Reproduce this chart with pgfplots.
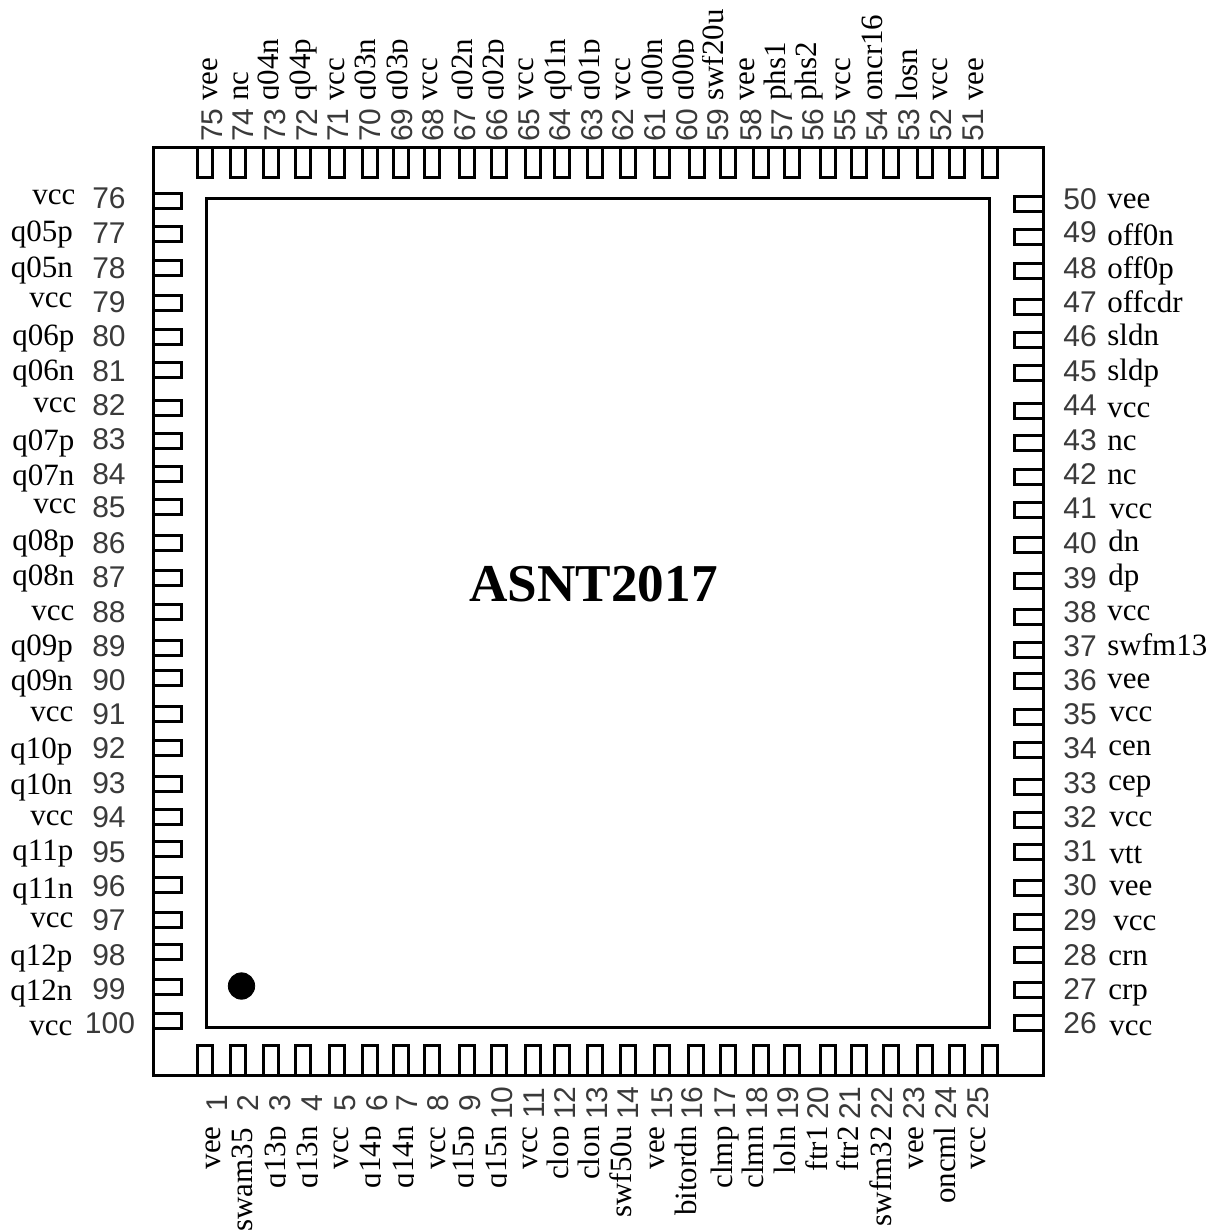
\documentclass[border=0pt]{standalone}
\usepackage{fontspec}
\usepackage{pgfplots}
\pgfplotsset{compat=1.18}
\setmainfont{Liberation Serif}
\newfontfamily\arialf{Liberation Sans}
\definecolor{numc}{HTML}{3A3A3A}
\newcommand{\nm}{\fontsize{15.5}{16}\selectfont}
\newcommand{\nb}{\arialf\fontsize{15}{16}\selectfont\color{numc}}
\newcommand{\HN}[3]{\node[anchor=base west,inner sep=0pt,font=\nm] at (axis cs:#1,#2) {#3};}
\newcommand{\TN}[2]{\node[rotate=90,anchor=base west,inner sep=0pt,font=\nm] at (axis cs:#1,101) {#2};}
\newcommand{\BN}[3][1126]{\node[rotate=90,anchor=base east,inner sep=0pt,font=\nm] at (axis cs:#2,#1) {#3};}
\newcommand{\HD}[3]{\node[anchor=center,inner sep=0pt,font=\nb] at (axis cs:#1,#2) {#3};}
\newcommand{\VD}[3]{\node[rotate=90,anchor=center,inner sep=0pt,font=\nb] at (axis cs:#1,#2) {#3};}
% hides the descender of a rotated label, as in the reference
\newcommand{\CUT}[3]{\fill[white] (axis cs:#1+1,#2) rectangle (axis cs:#1+9,#3);}
\pgfdeclareplotmark{pinB}{\pgfpathmoveto{\pgfqpoint{-3.75pt}{0pt}}\pgfpathlineto{\pgfqpoint{-3.75pt}{14.75pt}}\pgfpathlineto{\pgfqpoint{3.75pt}{14.75pt}}\pgfpathlineto{\pgfqpoint{3.75pt}{0pt}}\pgfusepathqstroke}
\pgfdeclareplotmark{pinT}{\pgfpathmoveto{\pgfqpoint{-3.75pt}{0pt}}\pgfpathlineto{\pgfqpoint{-3.75pt}{-15pt}}\pgfpathlineto{\pgfqpoint{3.75pt}{-15pt}}\pgfpathlineto{\pgfqpoint{3.75pt}{0pt}}\pgfusepathqstroke}
\pgfdeclareplotmark{pinL}{\pgfpathmoveto{\pgfqpoint{0pt}{3.75pt}}\pgfpathlineto{\pgfqpoint{14pt}{3.75pt}}\pgfpathlineto{\pgfqpoint{14pt}{-3.75pt}}\pgfpathlineto{\pgfqpoint{0pt}{-3.75pt}}\pgfusepathqstroke}
\pgfdeclareplotmark{pinR}{\pgfpathmoveto{\pgfqpoint{0pt}{3.75pt}}\pgfpathlineto{\pgfqpoint{-14.5pt}{3.75pt}}\pgfpathlineto{\pgfqpoint{-14.5pt}{-3.75pt}}\pgfpathlineto{\pgfqpoint{0pt}{-3.75pt}}\pgfusepathqstroke}
\begin{document}
\begin{tikzpicture}
\begin{axis}[
  scale only axis, width=606pt, height=616pt,
  xmin=0, xmax=1212, ymin=0, ymax=1232, y dir=reverse,
  hide axis, clip=false,
]
\path (axis cs:0,0) rectangle (axis cs:1212,1232);
% package outline and die outline
\addplot[black,line width=1.5pt,line cap=rect,mark=none] coordinates {(153,147)(1043,147)(1043,1075)(153,1075)(153,147)};
\addplot[black,line width=1.5pt,line cap=rect,mark=none] coordinates {(206,198)(989,198)(989,1027)(206,1027)(206,198)};
% pins
\addplot[only marks,black,mark=pinB,mark options={line width=1.5pt}] coordinates {
 (205,1075)(238,1075)(271,1075)(302.5,1075)(337,1075)(370,1075)(401,1075)(432,1075)(467,1075)(499,1075)(533,1075)(562,1075)(595,1075)(628,1075)(662,1075)(696,1075)(728,1075)(761,1075)(792,1075)(827.5,1075)(859,1075)(890.5,1075)(925,1075)(957,1075)(990,1075)};
\addplot[only marks,black,mark=pinT,mark options={line width=1.5pt}] coordinates {
 (205,147)(238,147)(271,147)(302.5,147)(337,147)(370,147)(401,147)(432,147)(467,147)(499,147)(533,147)(562,147)(595,147)(628,147)(662,147)(697,147)(728,147)(761,147)(792,147)(827.5,147)(859,147)(890.5,147)(925,147)(957,147)(990,147)};
\addplot[only marks,black,mark=pinL,mark options={line width=1.5pt}] coordinates {
 (153,200.5)(153,234)(153,268)(153,303)(153,337)(153,370)(153,407.5)(153,441)(153,474)(153,507)(153,543)(153,578)(153,612)(153,648)(153,678)(153,714)(153,748)(153,784)(153,817)(153,849)(153,885)(153,920)(153,952)(153,987)(153,1021)};
\addplot[only marks,black,mark=pinR,mark options={line width=1.5pt}] coordinates {
 (1043,204)(1043,237)(1043,271)(1043,307)(1043,340)(1043,373)(1043,411)(1043,443)(1043,477)(1043,510)(1043,545)(1043,580.5)(1043,617)(1043,650)(1043,681)(1043,717)(1043,750)(1043,787)(1043,820)(1043,852)(1043,888)(1043,922)(1043,955)(1043,990)(1043,1023)};
% orientation dot
\addplot[only marks,black,mark=*,mark size=6.6pt] coordinates {(241.5,986)};
% centre text
\node[anchor=base,inner sep=0pt,font=\fontsize{26.6}{28}\selectfont\bfseries] at (axis cs:593.5,601) {ASNT2017};
% left names
\HN{32}{204}{vcc}\HN{10.5}{241}{q05p}\HN{10.5}{277}{q05n}\HN{29}{307}{vcc}
\HN{12}{345}{q06p}\HN{12}{380}{q06n}\HN{33}{412}{vcc}\HN{12}{450}{q07p}\HN{12}{485}{q07n}\HN{33}{513}{vcc}
\HN{12}{550}{q08p}\HN{12}{585}{q08n}\HN{31}{620}{vcc}\HN{10.5}{655}{q09p}\HN{10.5}{690}{q09n}\HN{30}{721}{vcc}
\HN{10}{758}{q10p}\HN{10}{794}{q10n}\HN{30}{825}{vcc}\HN{12}{860}{q11p}\HN{12}{898}{q11n}\HN{30}{927}{vcc}
\HN{10}{965}{q12p}\HN{10}{1000}{q12n}\HN{29}{1035}{vcc}
\fill[white] (axis cs:74,180) rectangle (axis cs:86,320);
\fill[white] (axis cs:76,320) rectangle (axis cs:86,630);
\fill[white] (axis cs:73.5,630) rectangle (axis cs:86,835);
\fill[white] (axis cs:76,835) rectangle (axis cs:86,905);
\fill[white] (axis cs:73.5,905) rectangle (axis cs:86,1045);
% left numbers
\HD{109}{198}{76}\HD{109}{233}{77}\HD{109}{268}{78}\HD{109}{302}{79}\HD{109}{336}{80}
\HD{109}{371}{81}\HD{109}{405}{82}\HD{109}{439}{83}\HD{109}{474}{84}\HD{109}{507}{85}
\HD{109}{543}{86}\HD{109}{577}{87}\HD{109}{612}{88}\HD{109}{646}{89}\HD{109}{680}{90}
\HD{109}{714}{91}\HD{109}{748}{92}\HD{109}{783}{93}\HD{109}{817}{94}\HD{109}{852}{95}
\HD{109}{886}{96}\HD{109}{920}{97}\HD{109}{955}{98}\HD{109}{989}{99}\HD{110}{1023}{100}
% right numbers
\HD{1080}{199}{50}\HD{1080}{232}{49}\HD{1080}{268}{48}\HD{1080}{302}{47}\HD{1080}{336}{46}
\HD{1080}{371}{45}\HD{1080}{405}{44}\HD{1080}{440}{43}\HD{1080}{474}{42}\HD{1080}{508}{41}
\HD{1080}{543}{40}\HD{1080}{578}{39}\HD{1080}{612}{38}\HD{1080}{646}{37}\HD{1080}{680}{36}
\HD{1080}{714}{35}\HD{1080}{748}{34}\HD{1080}{783}{33}\HD{1080}{817}{32}\HD{1080}{851}{31}
\HD{1080}{885}{30}\HD{1080}{920}{29}\HD{1080}{955}{28}\HD{1080}{989}{27}\HD{1080}{1023}{26}
% right names
\HN{1107}{208}{vee}\HN{1107}{245}{off0n}\HN{1107}{278}{off0p}\HN{1107}{312}{offcdr}
\HN{1107}{345}{sldn}\HN{1107}{380}{sldp}\HN{1107}{417}{vcc}\HN{1107}{450}{nc}\HN{1107}{484}{nc}
\HN{1109}{518}{vcc}\HN{1108}{551}{dn}\HN{1108}{585}{dp}\HN{1107}{620}{vcc}\HN{1107}{655}{swfm13}
\HN{1107}{688}{vee}\HN{1109}{721}{vcc}\HN{1108}{755}{cen}\HN{1108}{790}{cep}\HN{1109}{826}{vcc}
\HN{1109}{863}{vtt}\HN{1109}{895}{vee}\HN{1113}{930}{vcc}\HN{1108}{965}{crn}\HN{1108}{999}{crp}\HN{1109}{1035}{vcc}
% top names
\TN{217}{vee}\TN{248}{nc}\TN{278}{q04n}\TN{310}{q04p}\TN{344}{vcc}\TN{375}{q03n}\TN{407}{q03p}
\TN{437}{vcc}\TN{472}{q02n}\TN{503}{q02p}\TN{533}{vcc}\TN{565}{q01n}\TN{599}{q01p}\TN{630}{vcc}
\TN{662}{q00n}\TN{693}{q00p}\TN{723}{swf20u}\TN{754}{vee}\TN{785}{phs1}\TN{816}{phs2}
\TN{850}{vcc}\TN{882}{oncr16}\TN{917}{losn}\TN{947}{vcc}\TN{983}{vee}
\CUT{278}{40}{103}\CUT{375}{40}{103}\CUT{407}{40}{103}\CUT{472}{40}{103}\CUT{503}{40}{103}
\CUT{599}{40}{103}\CUT{662}{40}{103}\CUT{693}{40}{103}
% top numbers
\VD{212}{125}{75}\VD{243}{125}{74}\VD{275}{125}{73}\VD{307}{125}{72}\VD{338}{125}{71}
\VD{370}{125}{70}\VD{402}{125}{69}\VD{433}{125}{68}\VD{465}{125}{67}\VD{497}{125}{66}
\VD{529}{125}{65}\VD{560}{125}{64}\VD{592}{125}{63}\VD{623}{125}{62}\VD{655}{125}{61}
\VD{687}{125}{60}\VD{718}{125}{59}\VD{751}{125}{58}\VD{782}{125}{57}\VD{813}{125}{56}
\VD{845}{125}{55}\VD{877}{125}{54}\VD{909}{125}{53}\VD{941}{125}{52}\VD{973}{125}{51}
% bottom numbers
\VD{217}{1103}{1}\VD{248}{1103}{2}\VD{280}{1103}{3}\VD{312}{1103}{4}\VD{345}{1103}{5}
\VD{377}{1103}{6}\VD{407}{1103}{7}\VD{438}{1103}{8}\VD{470}{1103}{9}\VD{502}{1103}{10}
\VD{534}{1103}{11}\VD{565}{1103}{12}\VD{597}{1103}{13}\VD{628}{1103}{14}\VD{662}{1103}{15}
\VD{692}{1103}{16}\VD{725}{1103}{17}\VD{757}{1103}{18}\VD{788}{1103}{19}\VD{818}{1103}{20}
\VD{850}{1103}{21}\VD{882}{1103}{22}\VD{914}{1103}{23}\VD{946}{1103}{24}\VD{978}{1103}{25}
% bottom names
\BN{220}{vee}\BN[1128]{252}{swam35}\BN{285}{q13p}\BN{317}{q13n}\BN{348}{vcc}\BN{380}{q14p}\BN{413}{q14n}
\BN{445}{vcc}\BN{473}{q15p}\BN{506}{q15n}\BN{537}{vcc}\BN{568}{clop}\BN{599}{clon}\BN{631}{swf50u}
\BN{664}{vee}\BN{696}{bitordn}\BN{732}{clmp}\BN{763}{clmn}\BN{795}{loln}\BN{827}{ftr1}\BN{858}{ftr2}
\BN{891}{swfm32}\BN{923}{vee}\BN{955}{oncml}\BN{985}{vcc}
\CUT{285}{1122}{1200}\CUT{317}{1122}{1200}\CUT{380}{1122}{1200}\CUT{413}{1122}{1200}
\CUT{473}{1122}{1200}\CUT{506}{1122}{1200}\CUT{568}{1122}{1200}
\end{axis}
\end{tikzpicture}
\end{document}
